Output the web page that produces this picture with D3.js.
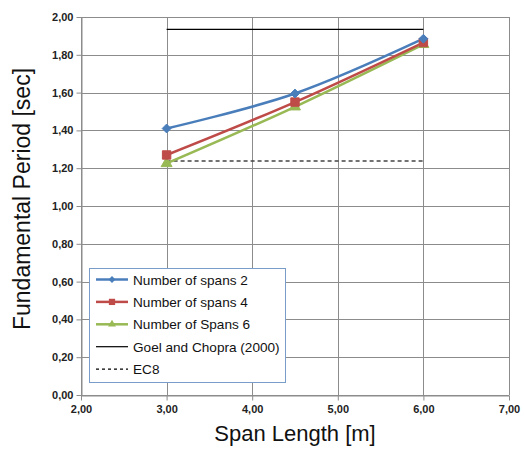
<!DOCTYPE html>
<html>
<head>
<meta charset="utf-8">
<script src="https://cdn.jsdelivr.net/npm/d3@7"></script>
<style>
  body { margin: 0; background: #fff; }
  svg { display: block; }
</style>
</head>
<body>
<svg id="chart" width="524" height="450"></svg>
<script>
// Span lengths (m) at which the frames were analysed
const spanLengths = [3.0, 4.5, 6.0];

// Fundamental period (sec) per number of spans
const spans2 = [1.41, 1.595, 1.885];
const spans4 = [1.27, 1.55, 1.865];
const spans6 = [1.225, 1.525, 1.855];

// Code / empirical reference periods
const goelChopra = [1.935, 1.935];
const ec8 = [1.238, 1.238];
const refSpan = [3.0, 6.0];

// Axis tick values
const xTicks = [2, 3, 4, 5, 6, 7];
const yTicks = [0, 0.2, 0.4, 0.6, 0.8, 1.0, 1.2, 1.4, 1.6, 1.8, 2.0];

const seriesNames = ["Number of spans 2", "Number of spans 4", "Number of Spans 6", "Goel and Chopra (2000)", "EC8"];

const svg = d3.select("#chart");
const fontFam = "Liberation Sans, Arial, sans-serif";

const x = d3.scaleLinear().domain([2, 7]).range([81, 509]);
const y = d3.scaleLinear().domain([0, 2]).range([395, 17]);

const fmt = v => d3.format(".2f")(v).replace(".", ",");
const gridColor = "#8c8c8c";

// gridlines
svg.append("g").selectAll("line").data(yTicks).join("line")
  .attr("x1", x(2)).attr("x2", x(7))
  .attr("y1", d => Math.round(y(d)) + 0.5).attr("y2", d => Math.round(y(d)) + 0.5)
  .attr("stroke", gridColor).attr("stroke-width", 1);
svg.append("g").selectAll("line").data(xTicks).join("line")
  .attr("y1", y(0)).attr("y2", y(2))
  .attr("x1", d => Math.round(x(d)) + 0.5).attr("x2", d => Math.round(x(d)) + 0.5)
  .attr("stroke", gridColor).attr("stroke-width", 1);

// axes
const yAxis = d3.axisLeft(y).tickValues(yTicks).tickFormat(fmt).tickSize(5).tickSizeOuter(0);
const xAxis = d3.axisBottom(x).tickValues(xTicks).tickFormat(fmt).tickSize(5).tickSizeOuter(0);

const gy = svg.append("g").attr("transform", `translate(${Math.round(x(2)) + 0.5},0)`).call(yAxis);
const gx = svg.append("g").attr("transform", `translate(0,${Math.round(y(0)) + 0.5})`).call(xAxis);
[gx, gy].forEach(g => {
  g.select(".domain").attr("stroke", gridColor);
  g.selectAll(".tick line").attr("stroke", gridColor);
  g.selectAll(".tick text")
    .attr("font-family", fontFam)
    .attr("font-size", 11).attr("font-weight", "bold").attr("fill", "#222");
});
gy.selectAll(".tick text").attr("x", -8);
gx.selectAll(".tick text").attr("y", 10);

// axis titles
svg.append("text")
  .attr("transform", `translate(30,199) rotate(-90)`)
  .attr("text-anchor", "middle")
  .attr("font-family", fontFam)
  .attr("font-size", 23).attr("fill", "#111")
  .text("Fundamental Period [sec]");
svg.append("text")
  .attr("x", 295).attr("y", 441)
  .attr("text-anchor", "middle")
  .attr("font-family", fontFam)
  .attr("font-size", 22).attr("fill", "#111")
  .text("Span Length [m]");

// reference lines
const straight = d3.line().x(d => x(d[0])).y(d => y(d[1]));
svg.append("path")
  .attr("d", straight(refSpan.map((s, i) => [s, goelChopra[i]])))
  .attr("stroke", "#000").attr("stroke-width", 1.2).attr("fill", "none");
svg.append("path")
  .attr("d", straight(refSpan.map((s, i) => [s, ec8[i]])))
  .attr("stroke", "#444").attr("stroke-width", 1.5).attr("stroke-dasharray", "4,3").attr("fill", "none");

// smoothed data series
const smooth = d3.line().x(d => x(d[0])).y(d => y(d[1])).curve(d3.curveCardinal.tension(0));

const series = [
  { name: seriesNames[0], values: spans2, color: "#4a7ebb", marker: d3.symbolDiamond2, size: 50 },
  { name: seriesNames[1], values: spans4, color: "#be4b48", marker: d3.symbolSquare2, size: 90 },
  { name: seriesNames[2], values: spans6, color: "#98b954", marker: d3.symbolTriangle2, size: 85 }
];

series.slice().reverse().forEach(s => {
  const pts = spanLengths.map((sl, i) => [sl, s.values[i]]);
  svg.append("path").attr("d", smooth(pts))
    .attr("stroke", s.color).attr("stroke-width", 2.5).attr("fill", "none");
});
series.slice().reverse().forEach(s => {
  const pts = spanLengths.map((sl, i) => [sl, s.values[i]]);
  svg.append("g").selectAll("path").data(pts).join("path")
    .attr("transform", d => `translate(${x(d[0])},${y(d[1])})`)
    .attr("d", d3.symbol().type(s.marker).size(s.size)())
    .attr("fill", s.color).attr("stroke", s.color).attr("stroke-width", 1);
});

// legend
const lg = svg.append("g");
lg.append("rect")
  .attr("x", 89.5).attr("y", 268.5).attr("width", 196).attr("height", 114)
  .attr("fill", "#fff").attr("stroke", "#7a9cc8").attr("stroke-width", 1);

const legendItems = [
  { name: seriesNames[0], color: "#4a7ebb", marker: d3.symbolDiamond2, size: 30, dash: null, w: 2.5 },
  { name: seriesNames[1], color: "#be4b48", marker: d3.symbolSquare2, size: 50, dash: null, w: 2.5 },
  { name: seriesNames[2], color: "#98b954", marker: d3.symbolTriangle2, size: 45, dash: null, w: 2.5 },
  { name: seriesNames[3], color: "#000", marker: null, dash: null, w: 1.2 },
  { name: seriesNames[4], color: "#000", marker: null, dash: "3,3", w: 1.2 }
];
legendItems.forEach((it, i) => {
  const cy = 279.5 + i * 22.4;
  lg.append("line").attr("x1", 96).attr("x2", 128).attr("y1", cy).attr("y2", cy)
    .attr("stroke", it.color).attr("stroke-width", it.w)
    .attr("stroke-dasharray", it.dash);
  if (it.marker) {
    lg.append("path").attr("transform", `translate(112,${cy})`)
      .attr("d", d3.symbol().type(it.marker).size(it.size)())
      .attr("fill", it.color);
  }
  lg.append("text").attr("x", 133).attr("y", cy + 5)
    .attr("font-family", fontFam)
    .attr("font-size", 13.6).attr("fill", "#111")
    .text(it.name);
});
</script>
</body>
</html>
